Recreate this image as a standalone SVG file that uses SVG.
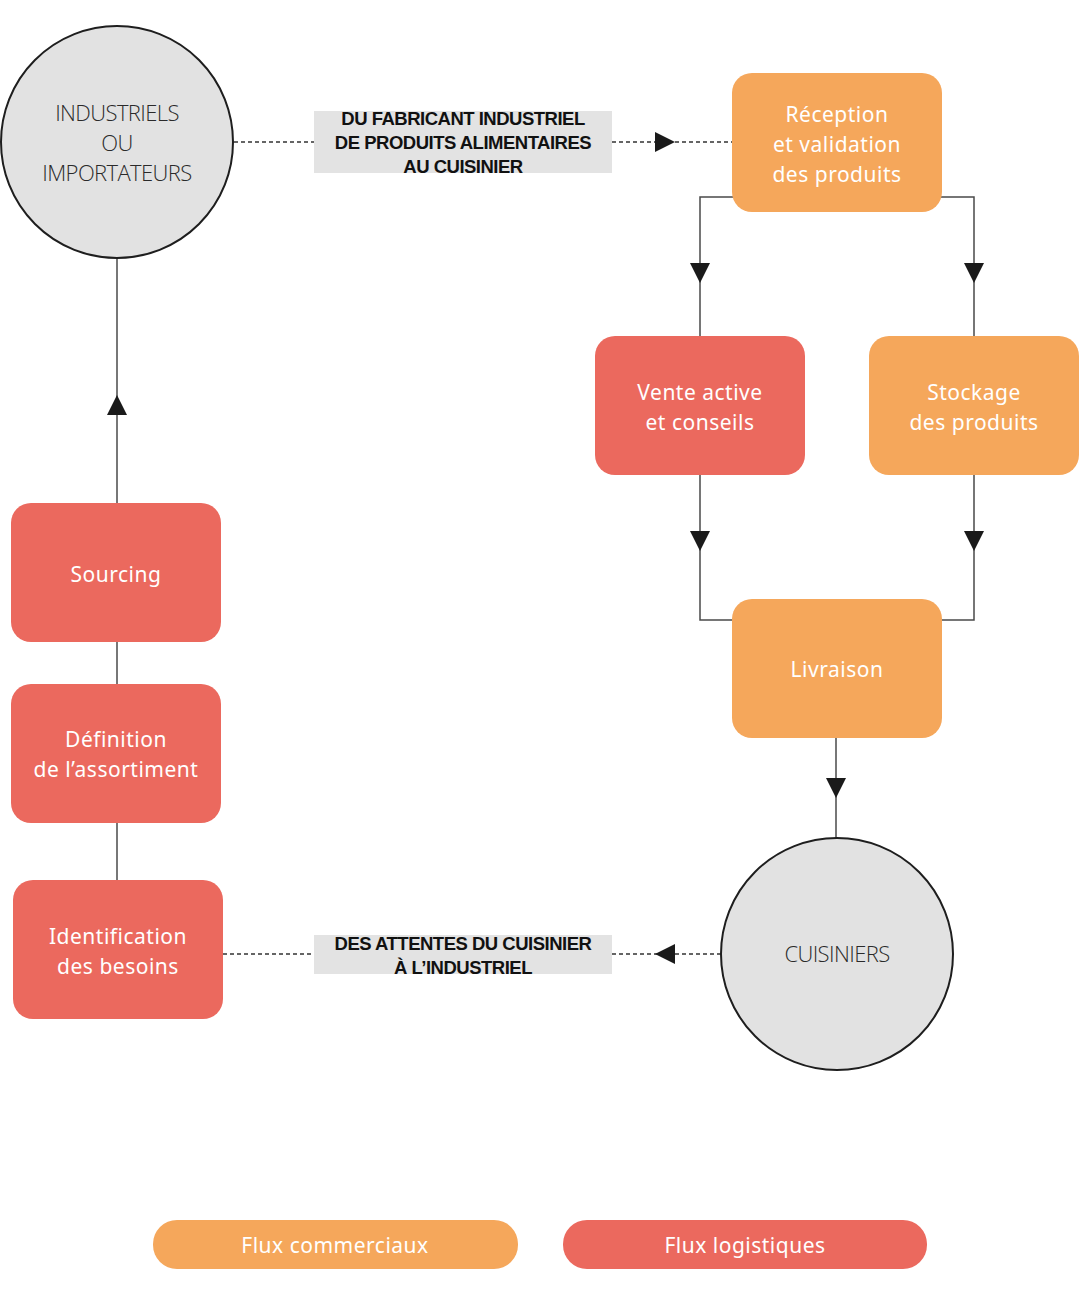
<svg xmlns="http://www.w3.org/2000/svg" width="1080" height="1296" viewBox="0 0 1080 1296">
<defs>
<style>
.orange{fill:#f5a75b}
.red{fill:#eb695e}
.circle{fill:#e2e2e2;stroke:#1e1e1e;stroke-width:2}
.lbl{font-family:"Noto Sans","Open Sans",sans-serif;font-size:21px;fill:#ffffff;text-anchor:middle;letter-spacing:0.5px}
.ctext{font-family:"Open Sans","Liberation Sans",sans-serif;font-weight:300;font-size:22px;fill:#2a2a2a;text-anchor:middle;letter-spacing:-0.6px}
.tag{fill:#e3e3e3}
.tagtext{font-family:"Liberation Sans",Arial,sans-serif;font-weight:bold;font-size:18.5px;fill:#111;text-anchor:middle;letter-spacing:-0.5px}
.line{fill:none;stroke:#4a4a4a;stroke-width:1.5}
.dash{fill:none;stroke:#333;stroke-width:1.3;stroke-dasharray:4 3}
.arrow{fill:#1a1a1a}
</style>
</defs>
<rect width="1080" height="1296" fill="#ffffff"/>

<g id="connectors">
<line class="dash" x1="234" y1="142" x2="314" y2="142"/>
<line class="dash" x1="612" y1="142" x2="732" y2="142"/>
<polygon class="arrow" points="655,132 675,142 655,152"/>
<line class="dash" x1="223" y1="954" x2="314" y2="954"/>
<line class="dash" x1="612" y1="954" x2="721" y2="954"/>
<polygon class="arrow" points="675,944 655,954 675,964"/>
<polyline class="line" points="733,197 700,197 700,336"/>
<polygon class="arrow" points="690,263 710,263 700,283"/>
<polyline class="line" points="941,197 974,197 974,336"/>
<polygon class="arrow" points="964,263 984,263 974,283"/>
<polyline class="line" points="700,475 700,620 733,620"/>
<polygon class="arrow" points="690,531 710,531 700,551"/>
<polyline class="line" points="974,475 974,620 941,620"/>
<polygon class="arrow" points="964,531 984,531 974,551"/>
<line class="line" x1="836" y1="738" x2="836" y2="838"/>
<polygon class="arrow" points="826,778 846,778 836,798"/>
<line class="line" x1="117" y1="880" x2="117" y2="823"/>
<line class="line" x1="117" y1="684" x2="117" y2="642"/>
<line class="line" x1="117" y1="503" x2="117" y2="258"/>
<polygon class="arrow" points="107,415 127,415 117,395"/>
<rect class="tag" x="314" y="111" width="298" height="62"/>
<text class="tagtext" x="463" y="125">DU FABRICANT INDUSTRIEL</text>
<text class="tagtext" x="463" y="149">DE PRODUITS ALIMENTAIRES</text>
<text class="tagtext" x="463" y="173">AU CUISINIER</text>
<rect class="tag" x="314" y="935" width="298" height="39"/>
<text class="tagtext" x="463" y="950">DES ATTENTES DU CUISINIER</text>
<text class="tagtext" x="463" y="974">À L’INDUSTRIEL</text>
</g>

<g id="industriels">
<circle class="circle" cx="117" cy="142" r="116"/>
<text class="ctext" x="117" y="121">INDUSTRIELS</text>
<text class="ctext" x="117" y="151">OU</text>
<text class="ctext" x="117" y="181">IMPORTATEURS</text>
</g>

<g id="cuisiniers">
<circle class="circle" cx="837" cy="954" r="116"/>
<text class="ctext" x="837" y="962">CUISINIERS</text>
</g>

<g id="reception">
<rect class="orange" x="732" y="73" width="210" height="139" rx="20"/>
<text class="lbl" x="837" y="122">Réception</text>
<text class="lbl" x="837" y="152">et validation</text>
<text class="lbl" x="837" y="182">des produits</text>
</g>

<g id="vente">
<rect class="red" x="595" y="336" width="210" height="139" rx="20"/>
<text class="lbl" x="700" y="400">Vente active</text>
<text class="lbl" x="700" y="430">et conseils</text>
</g>

<g id="stockage">
<rect class="orange" x="869" y="336" width="210" height="139" rx="20"/>
<text class="lbl" x="974" y="400">Stockage</text>
<text class="lbl" x="974" y="430">des produits</text>
</g>

<g id="livraison">
<rect class="orange" x="732" y="599" width="210" height="139" rx="20"/>
<text class="lbl" x="837" y="677">Livraison</text>
</g>

<g id="sourcing">
<rect class="red" x="11" y="503" width="210" height="139" rx="20"/>
<text class="lbl" x="116" y="582">Sourcing</text>
</g>

<g id="definition">
<rect class="red" x="11" y="684" width="210" height="139" rx="20"/>
<text class="lbl" x="116" y="747">Définition</text>
<text class="lbl" x="116" y="777">de l’assortiment</text>
</g>

<g id="identification">
<rect class="red" x="13" y="880" width="210" height="139" rx="20"/>
<text class="lbl" x="118" y="944">Identification</text>
<text class="lbl" x="118" y="974">des besoins</text>
</g>

<g id="legend-commerciaux">
<rect class="orange" x="153" y="1220" width="365" height="49" rx="24"/>
<text class="lbl" x="335" y="1253">Flux commerciaux</text>
</g>

<g id="legend-logistiques">
<rect class="red" x="563" y="1220" width="364" height="49" rx="24"/>
<text class="lbl" x="745" y="1253">Flux logistiques</text>
</g>
</svg>
